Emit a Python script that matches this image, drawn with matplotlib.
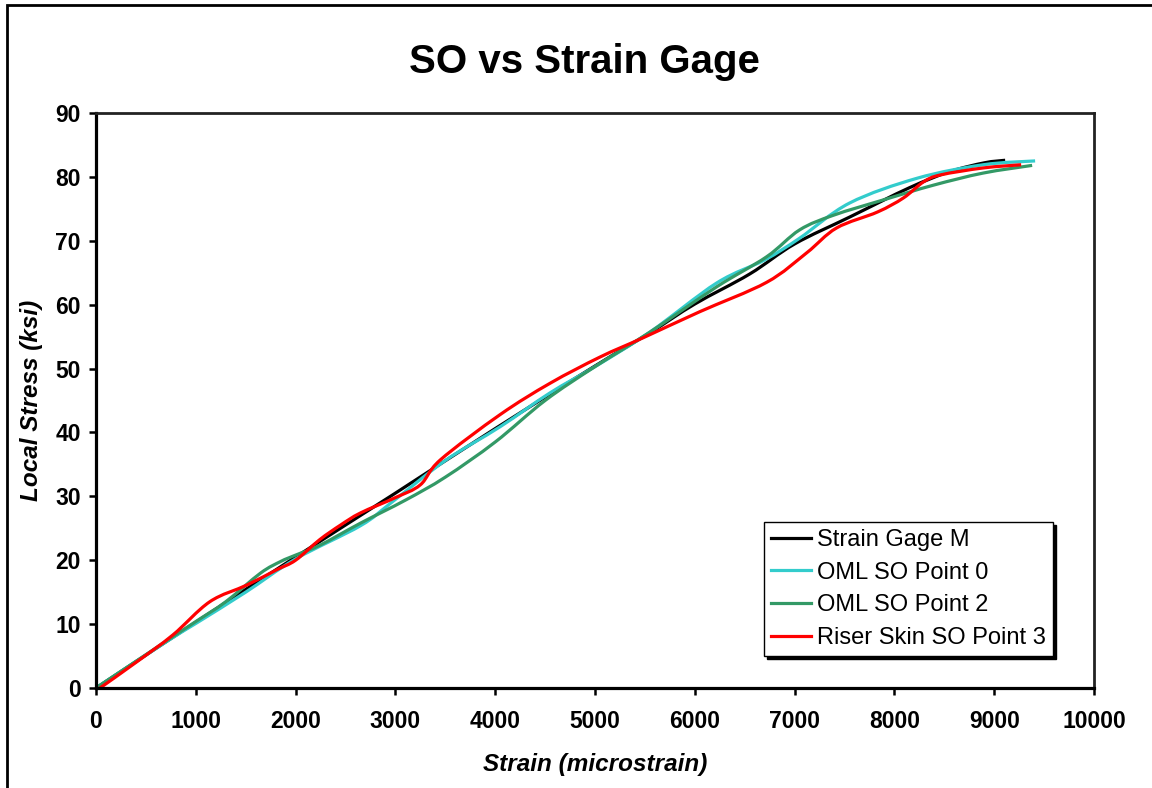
import numpy as np
import matplotlib
matplotlib.use("Agg")
from matplotlib import pyplot as plt
from matplotlib.path import Path
from matplotlib.patches import PathPatch, Rectangle
from matplotlib.lines import Line2D

plt.rcParams['font.family'] = ['Liberation Sans', 'DejaVu Sans']

# Strain gage reading
gage_x = [0, 1000, 2000, 3000, 4000, 5000, 5550, 6000, 6550, 7000, 7550, 8150, 8550, 8900, 9110]
gage_y = [0, 10.3, 20.5, 30.5, 40.6, 50.4, 55.6, 60.1, 64.8, 69.5, 73.7, 78.3, 80.8, 82.2, 82.6]

# OML SO point 0
p0_x = [0, 700, 1000, 1500, 2000, 2650, 2950, 3500, 4050, 4550, 5000, 5550, 6220, 6700, 7050, 7550, 8230, 8890, 9410]
p0_y = [0, 7.2, 10.1, 15.0, 20.2, 25.4, 28.9, 35.6, 40.9, 46.2, 50.3, 55.7, 63.4, 67.0, 70.4, 75.9, 79.8, 81.9, 82.5]

# OML SO point 2
p2_x = [0, 700, 1000, 1300, 1650, 1850, 2000, 2250, 2650, 3100, 3500, 4000, 4500, 5000, 5550, 6220, 6720, 7050, 7390, 7890, 8390, 8890, 9380]
p2_y = [0, 7.3, 10.4, 13.5, 18.0, 19.8, 20.8, 22.4, 25.8, 29.4, 33.0, 38.5, 45.0, 50.3, 55.7, 62.8, 67.5, 71.7, 74.0, 76.4, 78.7, 80.6, 81.8]

# Riser skin SO point 3
p3_x = [40, 400, 770, 1140, 1510, 1810, 2000, 2240, 2450, 2650, 3000, 3250, 3450, 4050, 4550, 5050, 5480, 6050, 6720, 7120, 7420, 7830, 8090, 8290, 8460, 8890, 9270]
p3_y = [0, 4.0, 8.3, 13.5, 16.1, 18.5, 20.0, 23.2, 25.5, 27.4, 29.8, 31.8, 35.7, 42.8, 47.7, 51.8, 54.8, 58.9, 63.5, 68.1, 72.0, 74.5, 76.7, 79.2, 80.3, 81.4, 81.9]

series = [
    ("Strain Gage M", gage_x, gage_y, "black"),
    ("OML SO Point 0", p0_x, p0_y, "#33CCCC"),
    ("OML SO Point 2", p2_x, p2_y, "#339966"),
    ("Riser Skin SO Point 3", p3_x, p3_y, "#FF0000"),
]


def smooth_path(x, y):
    # cubic bezier through the points (spreadsheet-style smoothed line)
    pts = np.column_stack([x, y]).astype(float)
    n = len(pts)
    verts = [pts[0]]
    codes = [Path.MOVETO]
    for i in range(n - 1):
        p_prev = pts[i - 1] if i > 0 else pts[i]
        p_next2 = pts[i + 2] if i + 2 < n else pts[i + 1]
        c1 = pts[i] + (pts[i + 1] - p_prev) / 6.0
        c2 = pts[i + 1] - (p_next2 - pts[i]) / 6.0
        verts += [c1, c2, pts[i + 1]]
        codes += [Path.CURVE4] * 3
    return Path(verts, codes)


fig = plt.figure(figsize=(11.52, 7.88), dpi=100)
ax = fig.add_axes([96 / 1152, 100 / 788, 998 / 1152, 575 / 788])

handles = []
for label, x, y, color in series:
    patch = PathPatch(smooth_path(x, y), fill=False, edgecolor=color,
                      linewidth=2.3, capstyle='butt', joinstyle='round')
    ax.add_patch(patch)
    handles.append(Line2D([], [], color=color, linewidth=2.3, label=label))

ax.set_xlim(0, 10000)
ax.set_ylim(0, 90)
ax.set_xticks(np.arange(0, 10001, 1000))
ax.set_yticks(np.arange(0, 91, 10))
ax.tick_params(direction='out', length=5, width=1.8, labelsize=16.5)
ax.tick_params(axis='x', pad=11)
ax.tick_params(axis='y', pad=6)
for lbl in ax.get_xticklabels() + ax.get_yticklabels():
    lbl.set_fontweight('bold')
for side in ['left', 'bottom']:
    ax.spines[side].set_linewidth(2.3)
for side in ['top', 'right']:
    ax.spines[side].set_linewidth(2.0)
    ax.spines[side].set_color('#222222')

ax.set_xlabel('Strain (microstrain)', fontsize=17.5, fontweight='bold',
              fontstyle='italic', labelpad=14)
ax.set_ylabel('Local Stress (ksi)', fontsize=17.5, fontweight='bold',
              fontstyle='italic', labelpad=9)

fig.text(584 / 1152, 1 - 62 / 788, 'SO vs Strain Gage', fontsize=29,
         fontweight='bold', ha='center', va='center')

leg = fig.legend(handles=handles, loc='upper left',
                 bbox_to_anchor=(764 / 1152, 1 - 522 / 788),
                 fontsize=17, frameon=True, fancybox=False,
                 shadow={'color': 'black', 'alpha': 1.0},
                 handlelength=1.7, handletextpad=0.25, labelspacing=0.45,
                 borderpad=0.3, borderaxespad=0)
leg.get_frame().set_edgecolor('black')
leg.get_frame().set_linewidth(1.0)

# chart area border
fig.patches.append(Rectangle((7 / 1152, -0.05), 1.2, 1 - 5 / 788 + 0.05,
                             transform=fig.transFigure, fill=False,
                             edgecolor='black', linewidth=2.0))

fig.savefig('out.png', dpi=100)
